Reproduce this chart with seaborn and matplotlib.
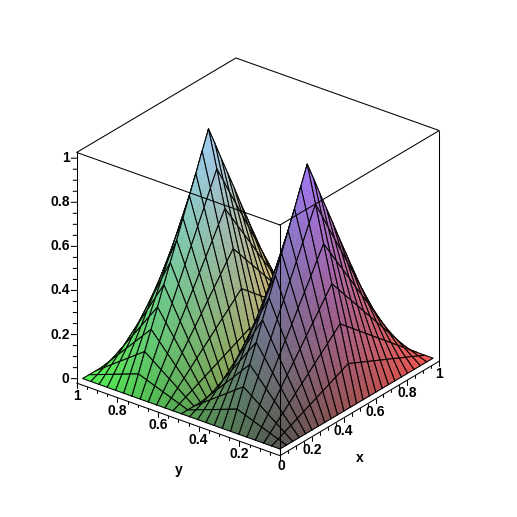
import numpy as np
import matplotlib
matplotlib.use("Agg")
import matplotlib.pyplot as plt
import seaborn as sns
from mpl_toolkits.mplot3d import proj3d
from mpl_toolkits.mplot3d.art3d import Poly3DCollection

# ---- data -----------------------------------------------------------------
grid = [0, .042, .083, .125, .167, .208, .25, .292, .333, .375, .417, .458, .5,
        .542, .583, .625, .667, .708, .75, .792, .833, .875, .917, .958, 1]
x_profile = [0, .083, .167, .25, .333, .417, .5, .583, .667, .75, .833, .917, 1,
             .917, .833, .75, .667, .583, .5, .417, .333, .25, .167, .083, 0]
y_profile = [0, .167, .333, .5, .667, .833, 1, .833, .667, .5, .333, .167, 0,
             .167, .333, .5, .667, .833, 1, .833, .667, .5, .333, .167, 0]
major_ticks = [0, .2, .4, .6, .8, 1]
minor_ticks = [.05, .1, .15, .25, .3, .35, .45, .5, .55, .65, .7, .75, .85, .9, .95]
major_labels = ["0", "0.2", "0.4", "0.6", "0.8", "1"]

# ---- layout / style ---------------------------------------------------------
XMAX, YMAX, ZMIN, ZMAX = 1.04, 1.03, -0.03, 1.01
PX = 1 / 220.5            # one screen pixel in data units along z
LEFT_X, LEFT_Y = -0.00245, 0.00318   # one pixel to the left on screen
LW = 0.75
BASE, GAIN = 0.31, 0.65
SUB = 3

sns.set_theme(style="white")
plt.rcParams["font.family"] = ["Liberation Sans", "DejaVu Sans"]
plt.rcParams["font.weight"] = "bold"

fig = plt.figure(figsize=(5.17, 5.17), dpi=100, facecolor="white")
ax = fig.add_axes([0, 0, 1, 1], projection="3d")
ax.set_proj_type("ortho")
ax.view_init(elev=27.4, azim=-142.2)
ax.set_xlim(0, XMAX)
ax.set_ylim(0, YMAX)
ax.set_zlim(ZMIN, ZMAX)
ax.set_box_aspect((XMAX, YMAX, ZMAX - ZMIN), zoom=1)
ax.set_xticks([])
ax.set_yticks([])
ax.set_zticks([])
ax.set_axis_off()
ax.computed_zorder = False


def to_px(x, y, z):
    ax.apply_aspect()
    a, b, _ = proj3d.proj_transform(x, y, z, ax.get_proj())
    return ax.transData.transform((a, b))


# fit the projected cube to the figure: surface origin and x-end
fig.canvas.draw()
p0, p1 = to_px(0, 0, 0), to_px(1, 0, 0)
scale = np.hypot(153, 91) / np.hypot(*(p1 - p0))
ax.set_position([0, 0, scale, scale])
fig.canvas.draw()
p0 = to_px(0, 0, 0)
dx = (280 - p0[0]) / 517
dy = ((517 - 449) - p0[1]) / 517
ax.set_position([dx, dy, scale, scale])
fig.canvas.draw()

# ---- surface ----------------------------------------------------------------
g = np.array(grid)
px_, py_ = np.array(x_profile), np.array(y_profile)
n = len(g) - 1
order = 10
for i in range(n - 1, -1, -1):
    for j in range(n - 1, -1, -1):
        xs = np.linspace(g[i], g[i + 1], SUB + 1)
        ys = np.linspace(g[j], g[j + 1], SUB + 1)
        zx = np.interp(xs, g, px_)
        zy = np.interp(ys, g, py_)
        polys, cols = [], []
        for a in range(SUB):
            for b in range(SUB):
                corners = [(a, b), (a + 1, b), (a + 1, b + 1), (a, b + 1)]
                polys.append([(xs[u], ys[v], zx[u] * zy[v]) for u, v in corners])
                xm = (xs[a] + xs[a + 1]) / 2
                ym = (ys[b] + ys[b + 1]) / 2
                zm = (zx[a] + zx[a + 1]) * (zy[b] + zy[b + 1]) / 4
                cols.append((BASE + GAIN * xm, BASE + GAIN * ym, BASE + GAIN * zm))
        pc = Poly3DCollection(polys, facecolors=cols, edgecolors=cols,
                              linewidths=0.3, zorder=order)
        ax.add_collection3d(pc)
        ox = [g[i], g[i + 1], g[i + 1], g[i], g[i]]
        oy = [g[j], g[j], g[j + 1], g[j + 1], g[j]]
        oz = [px_[a] * py_[b] for a, b in
              [(i, j), (i + 1, j), (i + 1, j + 1), (i, j + 1), (i, j)]]
        ax.plot(ox, oy, oz, color="black", lw=LW, zorder=order + 0.5,
                solid_joinstyle="round")
        order += 1

top = order + 10
line = dict(color="black", lw=LW, zorder=top, clip_on=False)

# ---- frame --------------------------------------------------------------------
ax.plot([0, XMAX, XMAX, 0, 0], [0, 0, YMAX, YMAX, 0], [ZMAX] * 5, **line)
ax.plot([0, 0], [0, 0], [ZMIN, ZMAX], **line)
ax.plot([XMAX, XMAX], [0, 0], [ZMIN, ZMAX], **line)
ax.plot([0, 0], [YMAX, YMAX], [ZMIN, ZMAX], **line)
ax.plot([0, XMAX], [0, 0], [ZMIN, ZMIN], **line)
ax.plot([0, 0], [0, YMAX], [ZMIN, ZMIN], **line)


# ---- ticks and labels ----------------------------------------------------------
def ztick(t):
    return -0.01 + 0.994 * t


def label(x, y, z, s, ha="center"):
    fx, fy = fig.transFigure.inverted().transform(to_px(x, y, z))
    fig.text(fx, fy, s, ha=ha, va="center", fontsize=10, fontweight="bold",
             color="black")


for t, length in [(v, 2.5) for v in minor_ticks] + [(v, 4.5) for v in major_ticks]:
    ax.plot([t * XMAX] * 2, [0, 0], [ZMIN, ZMIN - length * PX], **line)
    ax.plot([0, 0], [t * YMAX] * 2, [ZMIN, ZMIN - length * PX], **line)
    ln = length + 1
    ax.plot([0, ln * LEFT_X], [YMAX, YMAX + ln * LEFT_Y], [ztick(t)] * 2, **line)

for t, s in zip(major_ticks, major_labels):
    label(7 * LEFT_X, YMAX + 7 * LEFT_Y, ztick(t), s, ha="right")
    if t == 0:
        label(-3 * LEFT_X, 0, ZMIN - 11 * PX, s)
        continue
    label(t * XMAX, 0, ZMIN - 13 * PX, s)
    label(0, t * YMAX, ZMIN - 13 * PX, s)

label(0.5 * XMAX, 0, ZMIN - 49 * PX, "x")
label(0, 0.5 * YMAX, ZMIN - 50 * PX, "y")

fig.savefig("out.png", dpi=100, facecolor="white")
